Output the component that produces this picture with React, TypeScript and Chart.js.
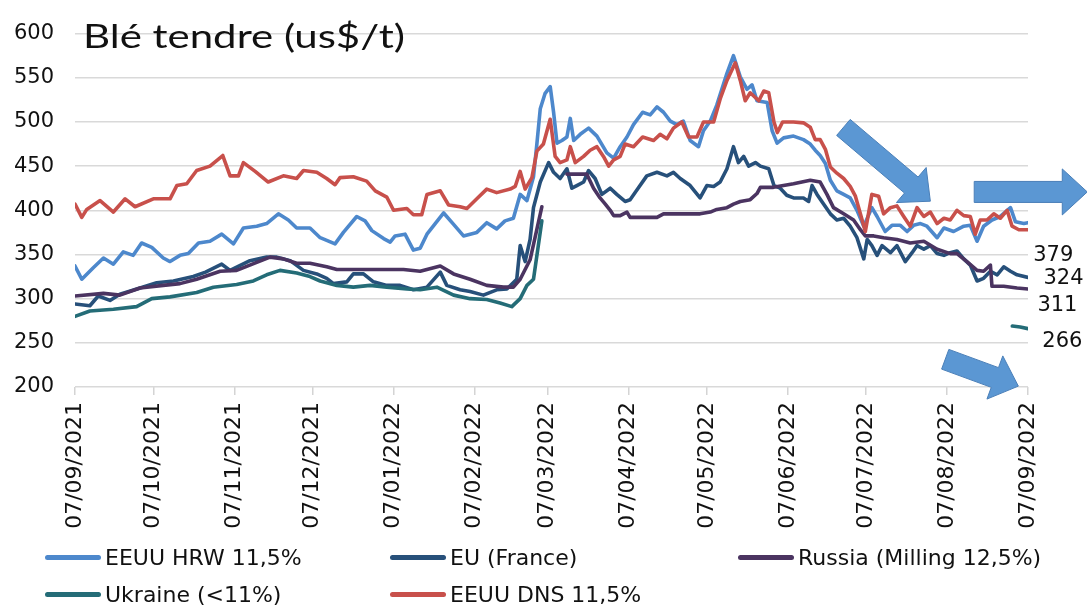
import React, { useEffect, useRef } from 'react';
import { Chart, registerables } from 'chart.js';

Chart.register(...registerables);

// Day index counted from 07/09/2021
const tickDays = [0, 30, 61, 91, 122, 153, 181, 212, 242, 273, 303, 334, 365];
const tickLabels = [
  '07/09/2021', '07/10/2021', '07/11/2021', '07/12/2021', '07/01/2022', '07/02/2022',
  '07/03/2022', '07/04/2022', '07/05/2022', '07/06/2022', '07/07/2022', '07/08/2022', '07/09/2022',
];

const seriesNames = ['EEUU HRW 11,5%', 'EU (France)', 'Russia (Milling 12,5%)', 'Ukraine (<11%)', 'EEUU DNS 11,5%'];
const seriesColors = ['#4d88cc', '#27507a', '#4b3461', '#246c77', '#c8504b'];

const hrw: [number, number | null][] = [
  [0, 337], [2.6, 322], [7, 335], [10.9, 346], [14.7, 339], [18.5, 353], [22.3, 349], [25.5, 363], [29.4, 358],
  [33.8, 346], [36.4, 342], [40.2, 349], [43.4, 351], [47.3, 363], [51.7, 365], [56.2, 373], [60.7, 362],
  [64.5, 380], [69.6, 382], [73.4, 385], [77.9, 396], [81.7, 389], [84.9, 380], [90, 380], [93.9, 369],
  [99.6, 362], [102.8, 375], [107.9, 393], [111.1, 388], [113.7, 377], [118.2, 368], [120.7, 364], [122.6, 371],
  [126.4, 373], [129.6, 355], [132.2, 357], [134.8, 373], [141.2, 397], [145, 384], [148.8, 371], [153.9, 375],
  [157.7, 386], [161.5, 379], [164.7, 388], [167.9, 391], [170.5, 418], [173.1, 411], [175.6, 438], [176.9, 475],
  [178.2, 515], [180, 532], [182, 540], [183.3, 511], [184.6, 476], [186.5, 479], [188.4, 483], [189.7, 504],
  [191, 479], [193.5, 486], [196.7, 493], [199.9, 484], [203.7, 465], [206.3, 459], [208.8, 472], [211.4, 483],
  [213.9, 497], [217.4, 511], [220.3, 508], [222.9, 517], [225.4, 511], [228, 501], [230.5, 497], [233, 501],
  [235.6, 479], [238.8, 472], [240.7, 490], [243.3, 501], [245.8, 519], [249.7, 555], [252.2, 575], [254.8, 551],
  [257.4, 537], [259.3, 542], [261.2, 524], [265.1, 522], [267, 490], [268.9, 476], [271.4, 482], [275.2, 484],
  [279, 480], [281.6, 475], [283.5, 468], [285.4, 462], [287.4, 453], [289.3, 434], [291.8, 422], [294.4, 418],
  [296.9, 414], [299.5, 400], [302.1, 382], [305.2, 403], [307.2, 393], [310.3, 376], [312.9, 383], [316.1, 383],
  [318.7, 376], [321.2, 383], [323.8, 385], [326.3, 382], [330.2, 369], [332.8, 380], [336.5, 376], [340.4, 382],
  [342.9, 383], [345.5, 365], [348, 382], [351.2, 389], [354.4, 393], [358.3, 403], [360.2, 387], [363.4, 385],
  [365, 386],
];

const eu: [number, number | null][] = [
  [0, 294], [5.7, 292], [8.9, 303], [13.4, 298], [17.2, 305], [24.9, 312], [31.3, 318], [37.7, 320], [45.3, 325],
  [50, 330], [56.2, 339], [59.4, 332], [67, 343], [73.4, 347], [77.3, 347], [82.4, 343], [87.5, 332], [92.6, 328],
  [96.4, 323], [99, 317], [104.1, 319], [106.6, 328], [110.5, 328], [114.3, 319], [119.4, 315], [124.5, 315],
  [129.6, 310], [134.8, 313], [139.9, 330], [142.4, 315], [147.5, 310], [151.3, 308], [156.4, 304], [161.5, 310],
  [165.4, 311], [169.2, 322], [170.5, 360], [172.4, 342], [174.3, 367], [175.6, 403], [178.2, 432], [181.4, 454],
  [183.3, 443], [185.8, 436], [188.4, 447], [190.3, 425], [192.2, 428], [194.8, 432], [196.7, 445], [199.2, 436],
  [201.8, 418], [205, 425], [207.5, 418], [210.7, 410], [212.6, 412], [215.2, 423], [219, 439], [222.9, 443],
  [226.7, 439], [229.2, 443], [231.8, 436], [235.6, 428], [239.4, 414], [242, 428], [244.6, 427], [247.1, 432],
  [249.7, 447], [252.2, 472], [254.1, 454], [256.1, 461], [258, 450], [260.6, 454], [262.5, 450], [265.7, 447],
  [267.7, 428], [270.1, 425], [272.6, 417], [275.2, 414], [279, 414], [281, 410], [282.3, 428], [284.2, 418],
  [286.7, 407], [289.3, 396], [291.8, 389], [294.4, 391], [296.9, 382], [299.5, 369], [302.1, 345], [303.4, 367],
  [305.2, 360], [307.2, 349], [309.1, 360], [312.3, 352], [314.8, 360], [318, 342], [320.6, 352], [322.5, 360],
  [325.1, 356], [327.6, 360], [330.2, 351], [332.8, 349], [335.2, 352], [337.8, 354], [340.4, 345], [342.9, 338],
  [345.5, 320], [348, 323], [350.6, 331], [353.2, 327], [355.7, 336], [358.3, 331], [360.8, 327], [365, 324],
];

const russia: [number, number | null][] = [
  [0, 303], [10.9, 306], [17.2, 304], [24.9, 312], [33.8, 315], [40.2, 317], [46.6, 322], [55.6, 331], [61.9, 332],
  [69.6, 341], [74.7, 347], [79.8, 345], [84.9, 340], [90, 340], [96.4, 336], [100.3, 333], [113, 333], [125.8, 333],
  [132.2, 331], [139.9, 337], [145, 328], [151.3, 322], [157.7, 315], [164.1, 313], [167.9, 313], [170.5, 322],
  [174.3, 344], [178.8, 404], [183, null], [188.4, 441], [196, 441], [198.6, 425], [201.1, 414], [203.1, 407],
  [205, 400], [206.3, 394], [208.8, 394], [211.4, 398], [212.6, 392], [219, 392], [222.9, 392], [225.4, 396],
  [231.8, 396], [239.4, 396], [243.3, 398], [245.8, 401], [249.7, 403], [252.2, 407], [254.8, 410], [258.6, 412],
  [261.2, 419], [262.5, 426], [267.5, 426], [275.2, 430], [281.6, 434], [285.4, 432], [288, 418], [290.5, 403],
  [294.4, 396], [298.2, 389], [300.8, 378], [302.7, 371], [305.9, 371], [309.7, 369], [314.8, 367], [319.9, 363],
  [325.1, 365], [330.2, 356], [335.2, 351], [337.8, 351], [341.6, 342], [345.5, 332], [348, 331], [350.6, 338],
  [351.2, 314], [355.7, 314], [360.8, 312], [365, 311],
];

const ukraine: [number, number | null][] = [
  [0, 280], [5.7, 286], [14.7, 288], [23.6, 291], [29.4, 300], [36.4, 302], [46.6, 307], [53, 313], [61.9, 316],
  [68.3, 320], [73.4, 327], [78.5, 332], [84.9, 329], [90, 325], [93.9, 320], [100.3, 315], [106.6, 313],
  [113, 315], [119.4, 313], [127.1, 311], [132.2, 310], [138.6, 313], [145, 304], [151.3, 300], [157.7, 299],
  [162.8, 295], [167.3, 291], [170.5, 300], [173.1, 315], [175.6, 322], [178.8, 388], [270, null],
  [359, 269], [362, 268], [365, 266],
];

const dns: [number, number | null][] = [
  [0, 407], [2.6, 392], [4.5, 401], [9.6, 411], [14.7, 398], [19.2, 413], [23, 404], [30, 413], [36.4, 413],
  [39, 428], [42.8, 430], [46.6, 445], [51.7, 450], [56.6, 462], [59.4, 439], [62.6, 439], [64.5, 454], [69, 444],
  [74, 432], [79.8, 439], [84.9, 436], [87.5, 445], [92.6, 443], [96.4, 436], [99.6, 429], [101.5, 437],
  [106.6, 438], [111.7, 433], [115, 422], [119.4, 415], [122, 400], [127.1, 402], [129.6, 395], [132.8, 395],
  [134.8, 418], [139.9, 422], [143.1, 406], [147.5, 404], [150.1, 402], [153.9, 413], [157.7, 424], [161.5, 420],
  [166.7, 424], [168.6, 427], [170.5, 444], [172.4, 424], [175, 437], [176.9, 467], [179.4, 475], [182, 503],
  [183.9, 461], [185.8, 454], [188.4, 457], [189.7, 472], [191.6, 454], [194.8, 461], [197.3, 468], [199.9, 472],
  [202.4, 461], [204.4, 450], [206.3, 457], [208.8, 461], [210.7, 475], [213.9, 472], [217.4, 483], [221.6, 479],
  [224.1, 486], [226.7, 481], [229.2, 493], [232.4, 500], [235, 483], [238.2, 483], [240.7, 500], [244.6, 500],
  [247.1, 526], [249.7, 547], [252.9, 567], [254.8, 547], [256.7, 524], [258.6, 533], [261.9, 524], [263.8, 535],
  [265.7, 533], [267.7, 500], [269, 488], [271, 500], [275.2, 500], [279, 499], [281.6, 494], [283.5, 480],
  [285.4, 480], [287.4, 469], [289.3, 449], [291.8, 442], [294.4, 436], [296.9, 427], [298.9, 416], [300.8, 396],
  [302.7, 376], [305.2, 418], [307.8, 416], [309.7, 396], [312.3, 403], [314.8, 405], [317.4, 393], [319.9, 382],
  [322.5, 403], [325.1, 393], [327.6, 398], [330.2, 385], [332.8, 391], [335.2, 389], [337.8, 400], [340.4, 394],
  [342.9, 393], [344.8, 373], [346.7, 389], [349.3, 389], [351.9, 396], [354.4, 391], [357, 400], [358.9, 382],
  [361.5, 378], [365, 378],
];

const endLabelTexts = ['379', '324', '311', '266'];
const titleText = 'Blé tendre (us$/t)';

// Decorations (placed in the chart's data space)
const endLabelAnchors = [
  { day: 367, value: 348.5 },
  { day: 370.9, value: 322.5 },
  { day: 368.6, value: 292 },
  { day: 370.5, value: 251 },
];
const arrowShapes = [
  { from: [294.3, 493.8], to: [327.6, 410.3] },
  { from: [344.4, 420.8], to: [387.7, 420.8] },
  { from: [333.3, 231.4], to: [361.3, 201] },
];

const toPoints = (arr: [number, number | null][]) => arr.map(([x, y]) => ({ x, y }));

function drawArrow(ctx: CanvasRenderingContext2D, x1: number, y1: number, x2: number, y2: number) {
  const shaft = 21, head = 46, headLen = 25;
  const dx = x2 - x1, dy = y2 - y1;
  const len = Math.hypot(dx, dy);
  const ux = dx / len, uy = dy / len;
  const nx = -uy, ny = ux;
  const bx = x2 - ux * headLen, by = y2 - uy * headLen;
  ctx.beginPath();
  ctx.moveTo(x1 + nx * shaft / 2, y1 + ny * shaft / 2);
  ctx.lineTo(bx + nx * shaft / 2, by + ny * shaft / 2);
  ctx.lineTo(bx + nx * head / 2, by + ny * head / 2);
  ctx.lineTo(x2, y2);
  ctx.lineTo(bx - nx * head / 2, by - ny * head / 2);
  ctx.lineTo(bx - nx * shaft / 2, by - ny * shaft / 2);
  ctx.lineTo(x1 - nx * shaft / 2, y1 - ny * shaft / 2);
  ctx.closePath();
  ctx.fillStyle = '#5b97d3';
  ctx.fill();
  ctx.strokeStyle = '#4a7fb8';
  ctx.lineWidth = 1;
  ctx.stroke();
}

const overlayPlugin = {
  id: 'overlayDecorations',
  afterDatasetsDraw(chart: any) {
    const { ctx, scales } = chart;
    const xs = scales.x, ys = scales.y;
    ctx.save();
    for (const a of arrowShapes) {
      drawArrow(
        ctx,
        xs.getPixelForValue(a.from[0]), ys.getPixelForValue(a.from[1]),
        xs.getPixelForValue(a.to[0]), ys.getPixelForValue(a.to[1]),
      );
    }
    ctx.fillStyle = '#111';
    ctx.font = '21px "DejaVu Sans", sans-serif';
    ctx.textAlign = 'left';
    ctx.textBaseline = 'middle';
    endLabelTexts.forEach((t, i) => {
      const p = endLabelAnchors[i];
      ctx.fillText(t, xs.getPixelForValue(p.day), ys.getPixelForValue(p.value));
    });
    // title
    ctx.font = '32px Lato, "DejaVu Sans", sans-serif';
    ctx.textBaseline = 'alphabetic';
    const w = ctx.measureText(titleText).width;
    ctx.translate(83, 48);
    ctx.scale(322 / w, 1);
    ctx.fillText(titleText, 0, 0);
    ctx.restore();
  },
};

const legendLayout = [
  { left: 45, top: 557 },
  { left: 390, top: 557 },
  { left: 738, top: 557 },
  { left: 45, top: 594 },
  { left: 390, top: 594 },
];

export default function App() {
  const canvasRef = useRef<HTMLCanvasElement | null>(null);

  useEffect(() => {
    if (!canvasRef.current) return;
    const all = [hrw, eu, russia, ukraine, dns];
    const chart = new Chart(canvasRef.current, {
      type: 'line',
      data: {
        datasets: all.map((s, i) => ({
          label: seriesNames[i],
          data: toPoints(s),
          borderColor: seriesColors[i],
          backgroundColor: seriesColors[i],
          borderWidth: 3.6,
          pointRadius: 0,
          tension: 0,
          spanGaps: false,
          borderJoinStyle: 'round' as const,
          borderCapStyle: 'round' as const,
          order: 5 - i,
        })),
      },
      options: {
        responsive: false,
        animation: false,
        events: [],
        parsing: false as any,
        layout: { padding: { left: 0, right: 59, top: 18, bottom: 0 } },
        plugins: { legend: { display: false }, tooltip: { enabled: false }, title: { display: false } },
        scales: {
          x: {
            type: 'linear',
            min: 0,
            max: 365,
            afterBuildTicks: (scale: any) => {
              scale.ticks = tickDays.map((v) => ({ value: v }));
            },
            afterFit: (scale: any) => {
              scale.height = 220;
            },
            ticks: {
              autoSkip: false,
              minRotation: 90,
              maxRotation: 90,
              padding: 7,
              color: '#111',
              font: { family: '"DejaVu Sans", sans-serif', size: 22 },
              callback: (_v: any, i: number) => tickLabels[i],
            },
            grid: { drawOnChartArea: false, drawTicks: true, tickLength: 8, color: '#d4d4d4', lineWidth: 1.5 },
            border: { display: false },
          },
          y: {
            min: 200,
            max: 600,
            afterFit: (scale: any) => {
              scale.width = 75;
            },
            ticks: {
              stepSize: 50,
              padding: 21,
              color: '#111',
              font: { family: '"DejaVu Sans", sans-serif', size: 21 },
            },
            grid: { drawTicks: false, color: '#d9d9d9', lineWidth: 1.5 },
            border: { display: false },
          },
        },
      },
      plugins: [overlayPlugin],
    } as any);
    return () => chart.destroy();
  }, []);

  return (
    <div style={{ position: 'absolute', left: 0, top: 0, width: 1087, height: 607, background: '#fff', overflow: 'hidden' }}>
      <canvas ref={canvasRef} width={1087} height={607} style={{ display: 'block' }} />
      {seriesNames.map((name, i) => (
        <div
          key={name}
          style={{
            position: 'absolute',
            left: legendLayout[i].left,
            top: legendLayout[i].top - 14,
            height: 28,
            display: 'flex',
            alignItems: 'center',
            whiteSpace: 'nowrap',
            fontFamily: '"DejaVu Sans", sans-serif',
            fontSize: 22,
            color: '#111',
          }}
        >
          <span
            style={{
              display: 'inline-block',
              width: 56,
              height: 5,
              borderRadius: 3,
              background: seriesColors[i],
              marginRight: 4,
            }}
          />
          <span>{name}</span>
        </div>
      ))}
    </div>
  );
}
